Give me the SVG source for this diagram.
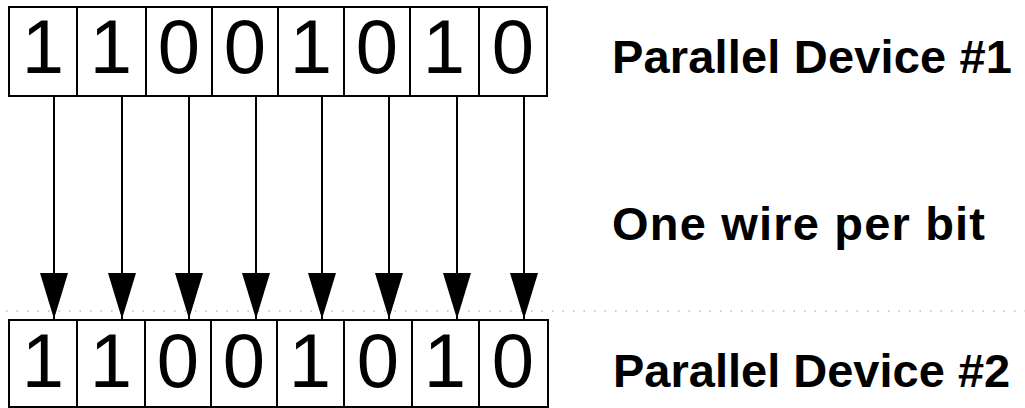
<svg xmlns="http://www.w3.org/2000/svg" width="1025" height="408" viewBox="0 0 1025 408">
<style>
.cell{fill:#fff;stroke:#000;stroke-width:2}
.digit{font-family:"Liberation Sans",Arial,sans-serif;font-size:76px;text-anchor:middle;fill:#000}
.label{font-family:"Liberation Sans",Arial,sans-serif;font-size:47px;font-weight:bold;fill:#000}
.wire{stroke:#000;stroke-width:2;fill:none}
.guide{stroke:#999;stroke-width:1.2;stroke-dasharray:1.5 9}
</style>
<defs>
<marker id="ah" markerUnits="userSpaceOnUse" markerWidth="48" markerHeight="30" refX="46" refY="15" orient="auto" viewBox="0 0 48 30">
<path d="M0,1 L46,15 L0,29 Z" fill="#000"/>
</marker>
</defs>
<rect width="1025" height="408" fill="#fff"/>
<line class="guide" x1="6" y1="311" x2="1025" y2="311"/>
<g id="device1">
<rect class="cell" x="9" y="7" width="68" height="89"/>
<rect class="cell" x="77" y="7" width="69" height="89"/>
<rect class="cell" x="146" y="7" width="66" height="89"/>
<rect class="cell" x="212" y="7" width="66" height="89"/>
<rect class="cell" x="278" y="7" width="66" height="89"/>
<rect class="cell" x="344" y="7" width="66" height="89"/>
<rect class="cell" x="410" y="7" width="69" height="89"/>
<rect class="cell" x="479" y="7" width="68" height="89"/>
<text class="digit" x="43" y="73">1</text>
<text class="digit" x="111" y="73">1</text>
<text class="digit" x="179" y="73">0</text>
<text class="digit" x="245" y="73">0</text>
<text class="digit" x="311" y="73">1</text>
<text class="digit" x="377" y="73">0</text>
<text class="digit" x="444" y="73">1</text>
<text class="digit" x="513" y="73">0</text>
</g>
<g id="device2">
<rect class="cell" x="9" y="320" width="68" height="87"/>
<rect class="cell" x="77" y="320" width="68" height="87"/>
<rect class="cell" x="145" y="320" width="66" height="87"/>
<rect class="cell" x="211" y="320" width="66" height="87"/>
<rect class="cell" x="277" y="320" width="67" height="87"/>
<rect class="cell" x="344" y="320" width="68" height="87"/>
<rect class="cell" x="412" y="320" width="67" height="87"/>
<rect class="cell" x="479" y="320" width="69" height="87"/>
<text class="digit" x="43" y="387">1</text>
<text class="digit" x="111" y="387">1</text>
<text class="digit" x="178" y="387">0</text>
<text class="digit" x="244" y="387">0</text>
<text class="digit" x="310" y="387">1</text>
<text class="digit" x="378" y="387">0</text>
<text class="digit" x="445" y="387">1</text>
<text class="digit" x="513" y="387">0</text>
</g>
<g id="connectors">
<line class="wire" x1="54" y1="96" x2="54" y2="319" marker-end="url(#ah)"/>
<line class="wire" x1="122" y1="96" x2="122" y2="319" marker-end="url(#ah)"/>
<line class="wire" x1="189" y1="96" x2="189" y2="319" marker-end="url(#ah)"/>
<line class="wire" x1="256" y1="96" x2="256" y2="319" marker-end="url(#ah)"/>
<line class="wire" x1="322" y1="96" x2="322" y2="319" marker-end="url(#ah)"/>
<line class="wire" x1="389" y1="96" x2="389" y2="319" marker-end="url(#ah)"/>
<line class="wire" x1="457" y1="96" x2="457" y2="319" marker-end="url(#ah)"/>
<line class="wire" x1="524" y1="96" x2="524" y2="319" marker-end="url(#ah)"/>
</g>
<g id="labels">
<text class="label" x="612" y="73" textLength="400" lengthAdjust="spacing">Parallel Device #1</text>
<text class="label" x="612" y="240" textLength="373" lengthAdjust="spacing">One wire per bit</text>
<text class="label" x="613" y="387">Parallel Device #2</text>
</g>
</svg>
